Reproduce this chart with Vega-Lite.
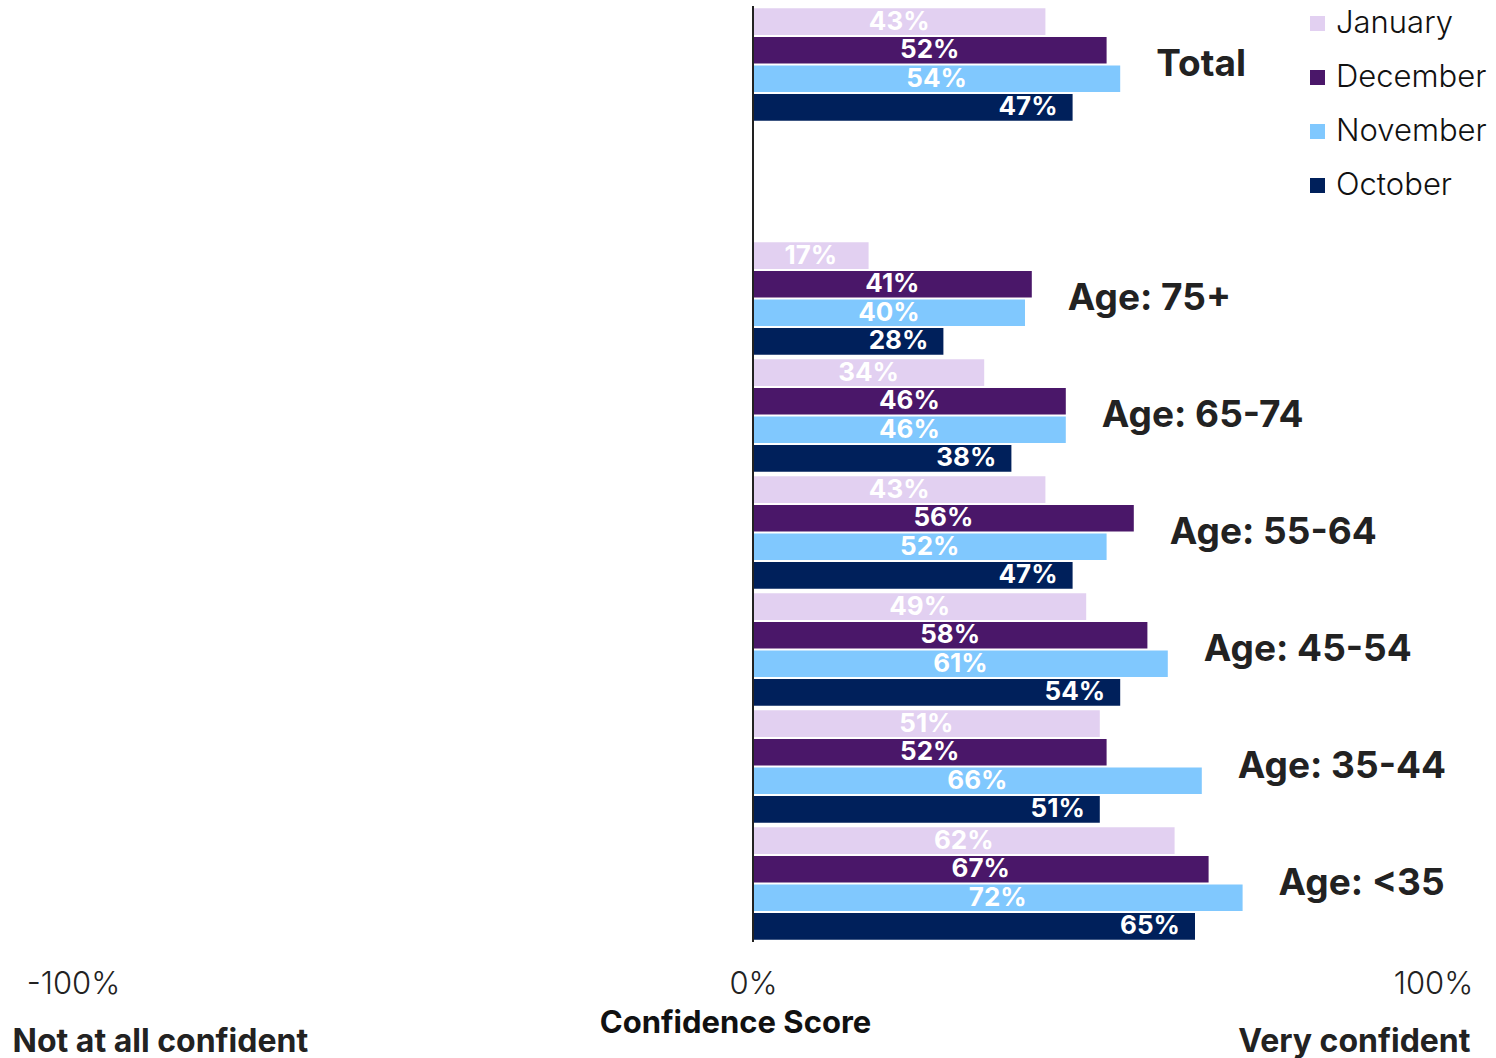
{
  "$schema": "https://vega.github.io/schema/vega-lite/v6.json",
  "width": 1360,
  "height": 936,
  "autosize": {"type": "none"},
  "padding": {"left": 73, "top": 6, "right": 63, "bottom": 116},
  "config": {"view": {"stroke": null}, "font": "Inter"},
  "data": {"values": [
    {"group": "Total", "month": "January", "value": 0.43},
    {"group": "Total", "month": "December", "value": 0.52},
    {"group": "Total", "month": "November", "value": 0.54},
    {"group": "Total", "month": "October", "value": 0.47},
    {"group": "Age: 75+", "month": "January", "value": 0.17},
    {"group": "Age: 75+", "month": "December", "value": 0.41},
    {"group": "Age: 75+", "month": "November", "value": 0.40},
    {"group": "Age: 75+", "month": "October", "value": 0.28},
    {"group": "Age: 65-74", "month": "January", "value": 0.34},
    {"group": "Age: 65-74", "month": "December", "value": 0.46},
    {"group": "Age: 65-74", "month": "November", "value": 0.46},
    {"group": "Age: 65-74", "month": "October", "value": 0.38},
    {"group": "Age: 55-64", "month": "January", "value": 0.43},
    {"group": "Age: 55-64", "month": "December", "value": 0.56},
    {"group": "Age: 55-64", "month": "November", "value": 0.52},
    {"group": "Age: 55-64", "month": "October", "value": 0.47},
    {"group": "Age: 45-54", "month": "January", "value": 0.49},
    {"group": "Age: 45-54", "month": "December", "value": 0.58},
    {"group": "Age: 45-54", "month": "November", "value": 0.61},
    {"group": "Age: 45-54", "month": "October", "value": 0.54},
    {"group": "Age: 35-44", "month": "January", "value": 0.51},
    {"group": "Age: 35-44", "month": "December", "value": 0.52},
    {"group": "Age: 35-44", "month": "November", "value": 0.66},
    {"group": "Age: 35-44", "month": "October", "value": 0.51},
    {"group": "Age: <35", "month": "January", "value": 0.62},
    {"group": "Age: <35", "month": "December", "value": 0.67},
    {"group": "Age: <35", "month": "November", "value": 0.72},
    {"group": "Age: <35", "month": "October", "value": 0.65}
  ]},
  "layer": [
    {
      "mark": {"type": "bar"},
      "encoding": {
        "y": {"field": "group", "type": "nominal", "scale": {"domain": ["Total", " ", "Age: 75+", "Age: 65-74", "Age: 55-64", "Age: 45-54", "Age: 35-44", "Age: <35"], "paddingInner": 0, "paddingOuter": 0}, "axis": null},
        "yOffset": {"field": "month", "type": "nominal", "scale": {"domain": ["January", "December", "November", "October"], "paddingInner": 0.07, "paddingOuter": 0.08}},
        "x": {"field": "value", "type": "quantitative", "scale": {"domain": [-1, 1]},
          "axis": {"orient": "bottom", "values": [-1, 0, 1], "format": ".0%", "labelExpr": "replace(datum.label, '\u2212', '-')", "labelFontSize": 31, "labelFontWeight": 300, "labelColor": "#222", "ticks": false, "domain": false, "grid": false, "labelPadding": 27, "labelFlush": false, "labelLimit": 400, "title": "Confidence Score", "titleFontSize": 31, "titleFontWeight": "bold", "titleColor": "#111", "titlePadding": 9, "titleX": 662}},
        "color": {"field": "month", "type": "nominal",
          "scale": {"domain": ["January", "December", "November", "October"], "range": ["#E2D0F1", "#4A1769", "#80C8FE", "#00205B"]},
          "legend": {"orient": "none", "legendX": 1229, "legendY": 2, "title": null, "symbolType": "square", "symbolSize": 225, "symbolStrokeWidth": 0, "labelFontSize": 31, "labelFontWeight": 300, "labelColor": "#111", "rowPadding": 22, "labelOffset": 3, "labelLimit": 300}}
      }
    },
    {
      "transform": [{"filter": "datum.month != 'October'"}, {"calculate": "datum.value / 2", "as": "mid"}],
      "mark": {"type": "text", "color": "white", "fontWeight": "bold", "fontSize": 26, "baseline": "middle", "align": "center"},
      "encoding": {
        "y": {"field": "group", "type": "nominal", "axis": null},
        "yOffset": {"field": "month", "type": "nominal"},
        "x": {"field": "mid", "type": "quantitative", "axis": null},
        "text": {"field": "value", "type": "quantitative", "format": ".0%"}
      }
    },
    {
      "transform": [{"filter": "datum.month == 'October'"}],
      "mark": {"type": "text", "color": "white", "fontWeight": "bold", "fontSize": 26, "baseline": "middle", "align": "right", "dx": -15},
      "encoding": {
        "y": {"field": "group", "type": "nominal", "axis": null},
        "yOffset": {"field": "month", "type": "nominal"},
        "x": {"field": "value", "type": "quantitative", "axis": null},
        "text": {"field": "value", "type": "quantitative", "format": ".0%"}
      }
    },
    {
      "transform": [{"aggregate": [{"op": "max", "field": "value", "as": "mx"}], "groupby": ["group"]}],
      "mark": {"type": "text", "align": "left", "baseline": "middle", "dx": 36, "fontSize": 37, "fontWeight": "bold", "color": "#222"},
      "encoding": {
        "y": {"field": "group", "type": "nominal", "axis": null},
        "x": {"field": "mx", "type": "quantitative", "axis": null},
        "text": {"field": "group", "type": "nominal"}
      }
    },
    {
      "data": {"values": [{"zero": 0}]},
      "mark": {"type": "rule", "color": "#222", "strokeWidth": 2},
      "encoding": {
        "x": {"field": "zero", "type": "quantitative",
          "axis": {"orient": "bottom", "values": [-1, 1], "labelExpr": "datum.value < 0 ? 'Not at all confident' : 'Very confident'", "labelFontSize": 32, "labelFontWeight": "bold", "labelColor": "#222", "ticks": false, "domain": false, "grid": false, "labelPadding": 84, "labelFlush": false, "labelLimit": 400, "labelAlign": {"condition": {"test": "datum.value < 0", "value": "left"}, "value": "right"}, "labelOffset": {"condition": {"test": "datum.value < 0", "value": -61}, "value": 37}, "title": null}}
      }
    }
  ],
  "resolve": {"axis": {"x": "independent"}}
}
